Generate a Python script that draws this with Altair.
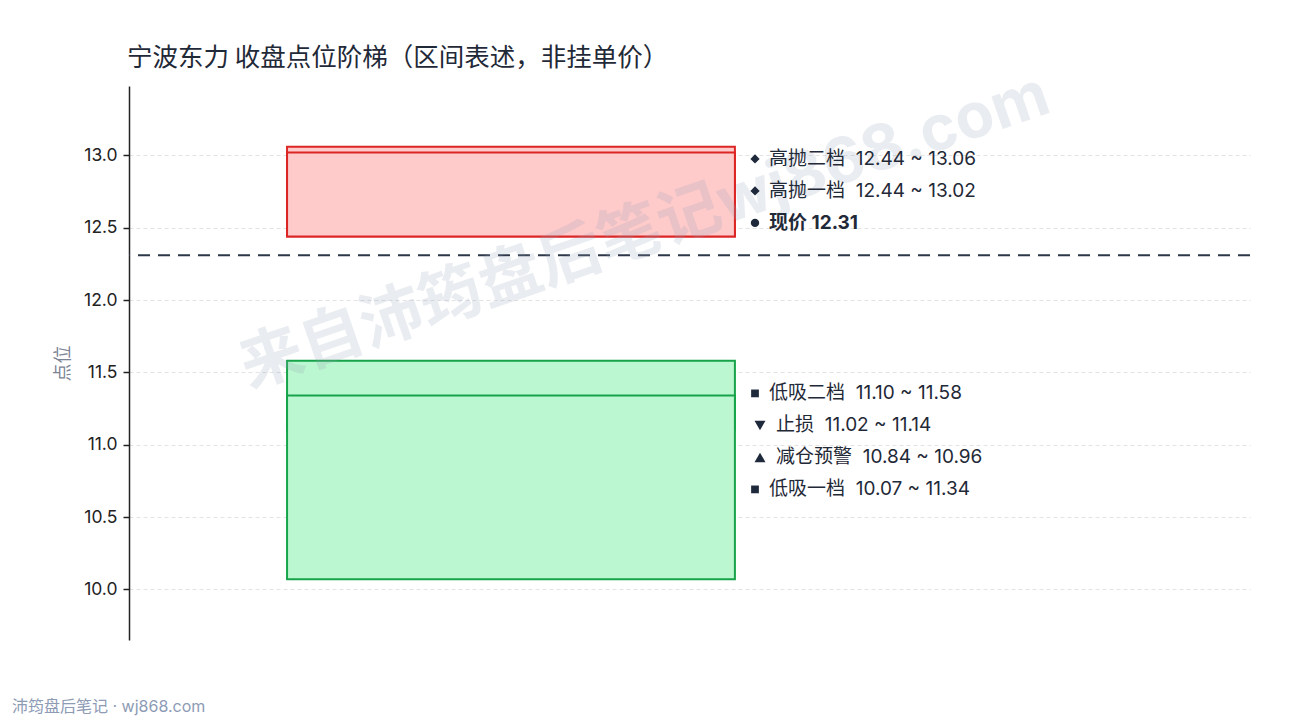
import altair as alt
import pandas as pd

# ---------------- data ----------------
title_text = "宁波东力 收盘点位阶梯（区间表述，非挂单价）"
footer_text = "沛筠盘后笔记 · wj868.com"
watermark_text = "来自沛筠盘后笔记wj868.com"

zone_names = ["高抛二档", "高抛一档", "低吸二档", "低吸一档"]
zone_low = [12.44, 12.44, 11.10, 10.07]
zone_high = [13.06, 13.02, 11.58, 11.34]
zone_side = ["sell", "sell", "buy", "buy"]

label_names = ["高抛二档", "高抛一档", "现价", "低吸二档", "止损", "减仓预警", "低吸一档"]
label_low = [12.44, 12.44, None, 11.10, 11.02, 10.84, 10.07]
label_high = [13.06, 13.02, None, 11.58, 11.14, 10.96, 11.34]
label_shapes = ["diamond", "diamond", "circle", "square", "triangle-down", "triangle-up", "square"]

current_price = 12.31
y_ticks = [10.0, 10.5, 11.0, 11.5, 12.0, 12.5, 13.0]
y_domain = [9.65, 13.48]

# ---------------- layout ----------------
W, H = 1121, 554
PAD_L, PAD_T, PAD_R, PAD_B = 121, 78, 32, 88
unit_px = H / (y_domain[1] - y_domain[0])
step = 32 / unit_px  # label line spacing in data units
nudge = 2 / unit_px

upper_n = 3
upper_start = 12.99 - nudge
lower_base = (label_low[-1] + label_high[-1]) / 2 - nudge
label_y = [upper_start - i * step for i in range(upper_n)]
lower_n = len(label_names) - upper_n
label_y += [lower_base + (lower_n - 1 - i) * step for i in range(lower_n)]

SP = "\u00a0"
label_text = []
for n, lo, hi in zip(label_names, label_low, label_high):
    if lo is None:
        label_text.append(f"{n} {current_price:.2f}")
    else:
        label_text.append(f"{n}{SP}{SP}{lo:.2f} ~ {hi:.2f}")

wide = [s.startswith("triangle") for s in label_shapes]
marker_x = [(631 if w else 626) / W for w in wide]
text_x = [(647 if w else 640) / W for w in wide]
marker_size = {"diamond": 85, "circle": 70, "square": 60, "triangle-down": 120, "triangle-up": 120}

zones = pd.DataFrame({"name": zone_names, "low": zone_low, "high": zone_high, "side": zone_side,
                      "x0": 0.141, "x1": 0.5405, "idx": list(range(len(zone_names)))})
labels = pd.DataFrame({"name": label_names, "y": label_y, "text": label_text,
                       "shape": label_shapes, "mx": marker_x, "tx": text_x,
                       "size": [marker_size[s] for s in label_shapes],
                       "bold": [lo is None for lo in label_low]})
price_df = pd.DataFrame({"price": [current_price]})

CJK = "Noto Sans CJK SC"
MIX = "Inter, Noto Sans CJK SC"
xscale = alt.Scale(domain=[0, 1])
yscale = alt.Scale(domain=y_domain, nice=False, zero=False)

y_axis = alt.Axis(
    title="点位", values=y_ticks, format=".1f",
    grid=True, gridColor="#e3e3e3", gridDash=[4, 3], gridWidth=1,
    domainColor="#222222", domainWidth=1.5, tickColor="#222222", tickSize=6, tickWidth=1.5,
    labelFont=MIX, labelFontSize=17.5, labelColor="#222222", labelPadding=6,
    titleFont=CJK, titleFontSize=18, titleColor="#7b8494", titleFontWeight="normal",
    titlePadding=11,
)

def Y(field):
    return alt.Y(field, scale=yscale, axis=y_axis)

rects = alt.Chart(zones).mark_rect(strokeWidth=2).encode(
    x=alt.X("x0:Q", scale=xscale, axis=None),
    x2="x1:Q",
    y=Y("low:Q"),
    y2="high:Q",
    fill=alt.Color("side:N", scale=alt.Scale(domain=["sell", "buy"], range=["#fecaca", "#bbf7d0"]), legend=None),
    stroke=alt.Stroke("side:N", scale=alt.Scale(domain=["sell", "buy"], range=["#dc2626", "#16a34a"]), legend=None),
    order=alt.Order("idx:Q"),
)

price_rule = alt.Chart(price_df).mark_rule(color="#2d3748", strokeWidth=2, strokeDash=[12, 8]).encode(
    y=Y("price:Q"),
)

watermark = alt.Chart(pd.DataFrame({"t": [watermark_text]})).mark_text(
    font=MIX, fontSize=63, fontWeight="bold", color="#94a3b8", opacity=0.2,
    angle=341, align="center", baseline="middle",
).encode(x=alt.value(516), y=alt.value(146), text="t:N")

markers = alt.Chart(labels).mark_point(filled=True, color="#1e293b", opacity=1).encode(
    x=alt.X("mx:Q", scale=xscale, axis=None),
    y=Y("y:Q"),
    shape=alt.Shape("shape:N", scale=None),
    size=alt.Size("size:Q", scale=None),
)

texts_normal = alt.Chart(labels).transform_filter("!datum.bold").mark_text(
    font=MIX, fontSize=19, color="#1f2937", align="left", baseline="middle",
).encode(
    x=alt.X("tx:Q", scale=xscale, axis=None),
    y=Y("y:Q"),
    text="text:N",
)
texts_bold = alt.Chart(labels).transform_filter("datum.bold").mark_text(
    font=MIX, fontSize=19, fontWeight="bold", color="#1f2937", align="left", baseline="middle",
).encode(
    x=alt.X("tx:Q", scale=xscale, axis=None),
    y=Y("y:Q"),
    text="text:N",
)

title = alt.Chart(pd.DataFrame({"t": [title_text]})).mark_text(
    font=CJK, fontSize=25.5, color="#1f2937", align="left", baseline="middle",
).encode(x=alt.value(-2), y=alt.value(58 - 8 - PAD_T), text="t:N")

footer = alt.Chart(pd.DataFrame({"t": [footer_text]})).mark_text(
    font=MIX, fontSize=16, color="#8d9bb5", align="left", baseline="middle",
).encode(x=alt.value(12 - 8 - PAD_L), y=alt.value(707 - 8 - PAD_T), text="t:N")

chart = alt.layer(rects, price_rule, watermark, markers, texts_normal, texts_bold, title, footer).properties(
    width=W, height=H,
    background="white",
    autosize=alt.AutoSizeParams(type="none"),
    padding={"left": PAD_L, "top": PAD_T, "right": PAD_R, "bottom": PAD_B},
).configure_view(strokeWidth=0, stroke="transparent")

chart.save("out.html", embed_options={"renderer": "svg", "actions": False})
